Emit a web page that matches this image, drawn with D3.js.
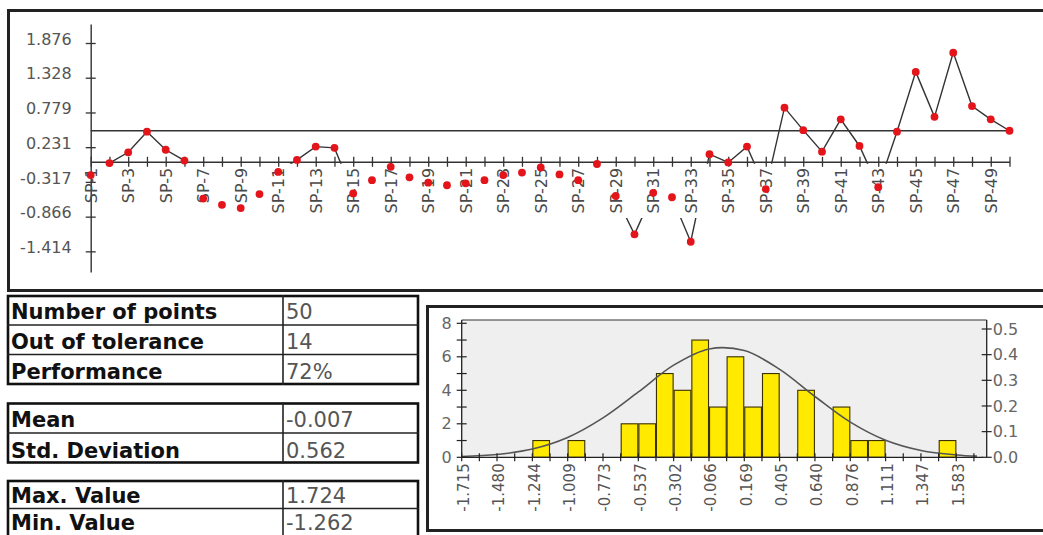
<!DOCTYPE html>
<html><head><meta charset="utf-8">
<script src="https://cdn.jsdelivr.net/npm/d3@7"></script>
<style>body{margin:0;background:#fff}svg{display:block}</style>
</head><body>
<svg id="c" width="1043" height="535"></svg>
<script>
// ---------- data ----------
const samples = ["SP-1","SP-2","SP-3","SP-4","SP-5","SP-6","SP-7","SP-8","SP-9","SP-10",
"SP-11","SP-12","SP-13","SP-14","SP-15","SP-16","SP-17","SP-18","SP-19","SP-20",
"SP-21","SP-22","SP-23","SP-24","SP-25","SP-26","SP-27","SP-28","SP-29","SP-30",
"SP-31","SP-32","SP-33","SP-34","SP-35","SP-36","SP-37","SP-38","SP-39","SP-40",
"SP-41","SP-42","SP-43","SP-44","SP-45","SP-46","SP-47","SP-48","SP-49","SP-50"];
const values = [-0.21,-0.02,0.15,0.475,0.19,0.02,-0.58,-0.68,-0.73,-0.51,
-0.16,0.03,0.24,0.22,-0.50,-0.29,-0.08,-0.245,-0.33,-0.37,
-0.34,-0.29,-0.21,-0.17,-0.09,-0.20,-0.29,-0.035,-0.54,-1.145,
-0.49,-0.56,-1.262,0.12,-0.01,0.24,-0.43,0.855,0.50,0.16,
0.67,0.25,-0.40,0.475,1.42,0.71,1.724,0.88,0.67,0.49];
const yTicks = [1.876,1.328,0.779,0.231,-0.317,-0.866,-1.414];
const limitValue = 0.49;

const table1Labels = ["Number of points","Out of tolerance","Performance"];
const table1Values = ["50","14","72%"];
const table2Labels = ["Mean","Std. Deviation"];
const table2Values = ["-0.007","0.562"];
const table3Labels = ["Max. Value","Min. Value"];
const table3Values = ["1.724","-1.262"];

const histBinWidth = 0.11775;
const histBinStarts = [-1.244,-1.009,-0.655,-0.537,-0.420,-0.302,-0.184,-0.066,0.051,0.169,0.287,0.522,0.758,0.876,0.993,1.465];
const histCounts    = [1,1,2,2,5,4,7,3,6,3,5,4,3,1,1,1];
const histTicks = ["-1.715","-1.480","-1.244","-1.009","-0.773","-0.537","-0.302","-0.066","0.169","0.405","0.640","0.876","1.111","1.347","1.583"];
const histLeftTicks = [0,2,4,6,8];
const histRightTicks = ["0.0","0.1","0.2","0.3","0.4","0.5"];
const curveX = [-1.715,-1.480,-1.244,-1.009,-0.773,-0.537,-0.302,-0.066,0.169,0.405,0.640,0.876,1.111,1.347,1.583,1.72];
const curveY = [0.05,0.17,0.49,1.18,2.35,3.9,5.5,6.47,6.37,5.25,3.63,2.1,1.02,0.41,0.14,0.07];

// ---------- drawing ----------
const svg = d3.select("#c");
const FONT = "'DejaVu Sans', Verdana, sans-serif";

// top panel frame
svg.append("rect").attr("x",8.5).attr("y",10.5).attr("width",1060).attr("height",280)
  .attr("fill","#fff").attr("stroke","#222").attr("stroke-width",3);

const x = d3.scalePoint().domain(samples).range([90.7, 1009.5]);
const y = d3.scaleLinear().domain([-1.74, 2.176]).range([272, 24]);
const pts = samples.map((s,i)=>({s, v: values[i]}));

const runG = svg.append("g");
runG.append("path").datum(pts)
  .attr("d", d3.line().x(d=>x(d.s)).y(d=>y(d.v)))
  .attr("fill","none").attr("stroke","#333").attr("stroke-width",1.4);

// label background band (hides line under the category labels)
runG.append("rect").attr("x", x.range()[0]+1).attr("y", y(0)+2)
  .attr("width", x.range()[1]-x.range()[0]+8).attr("height", 218-(y(0)+2)).attr("fill","#fff");

// limit line
runG.append("line").attr("x1",x(samples[0])).attr("x2",x(samples[samples.length-1]))
  .attr("y1",y(limitValue)).attr("y2",y(limitValue)).attr("stroke","#333").attr("stroke-width",1.4);

// y axis
const ya = runG.append("g").attr("transform",`translate(${x.range()[0]},0)`)
  .call(d3.axisLeft(y).tickValues(yTicks).tickFormat(d=>d.toFixed(3)).tickSize(5).tickSizeOuter(0));
ya.select(".domain").attr("stroke","#333").attr("stroke-width",1.4);
ya.selectAll(".tick line").attr("x1",5).attr("x2",-5).attr("stroke","#333").attr("stroke-width",1.3);
ya.selectAll(".tick text").attr("x",-19).attr("y",-4).attr("dy","0.32em")
  .style("font-family",FONT).style("font-size","16px").attr("fill","#555");

// x axis
const xa = runG.append("g").attr("transform",`translate(0,${y(0)})`)
  .call(d3.axisBottom(x).tickSize(5).tickSizeOuter(0).tickFormat((d,i)=> i%2===0 ? d : ""));
xa.select(".domain").attr("stroke","#333").attr("stroke-width",1.4);
xa.selectAll(".tick line").attr("y1",-5).attr("y2",5).attr("stroke","#333").attr("stroke-width",1.3);
xa.selectAll(".tick text").attr("x",-6).attr("y",0).attr("dy","0.35em")
  .attr("transform","rotate(-90)").style("text-anchor","end")
  .style("font-family",FONT).style("font-size","16px").attr("fill","#4a4a4a");

// points
runG.append("g").selectAll("circle").data(pts).join("circle")
  .attr("cx",d=>x(d.s)).attr("cy",d=>y(d.v)).attr("r",3.9).attr("fill","#e4141b");

// ---------- tables ----------
function drawTable(topY, rowH, labels, vals, lift){
  const g = svg.append("g");
  const x0 = 7, x1 = 419, xm = 283;
  let yy = topY;
  const ys = [yy];
  rowH.forEach(h=>{ yy += h; ys.push(yy); });
  g.append("rect").attr("x",x0+1).attr("y",topY+1).attr("width",x1-x0-2).attr("height",yy-topY-2)
    .attr("fill","#fff").attr("stroke","#111").attr("stroke-width",2.6);
  ys.slice(1,-1).forEach(v=> g.append("line").attr("x1",x0).attr("x2",x1).attr("y1",v).attr("y2",v)
    .attr("stroke","#222").attr("stroke-width",1.6));
  g.append("line").attr("x1",xm).attr("x2",xm).attr("y1",topY).attr("y2",yy).attr("stroke","#222").attr("stroke-width",1.6);
  labels.forEach((l,i)=>{
    const by = ys[i+1]-(lift && i===labels.length-1 ? lift : 6);
    g.append("text").attr("x",x0+4).attr("y",by).text(l)
      .style("font-family",FONT).style("font-size","21px").style("font-weight","bold").attr("fill","#111");
    g.append("text").attr("x",xm+3).attr("y",by).text(vals[i])
      .style("font-family",FONT).style("font-size","21px").attr("fill","#555");
  });
}
drawTable(295, [30,29.5,30.5], table1Labels, table1Values);
drawTable(402.5, [30.5,30.5], table2Labels, table2Values);
drawTable(480, [28.5,30], table3Labels, table3Values, 9);

// ---------- histogram ----------
svg.append("rect").attr("x",427.5).attr("y",306.5).attr("width",700).attr("height",224)
  .attr("fill","#fff").attr("stroke","#222").attr("stroke-width",3);

const hx = d3.scaleLinear().domain([-1.715, 1.785]).range([461.7, 986.7]);
const hy = d3.scaleLinear().domain([0, 8]).range([457.3, 323.3]);
const hyR = d3.scaleLinear().domain([0, 0.5]).range([457.3, 329]);
const hg = svg.append("g");
const plotTop = 320;

hg.append("rect").attr("x",hx.range()[0]).attr("y",plotTop).attr("width",hx.range()[1]-hx.range()[0])
  .attr("height",hy(0)-plotTop).attr("fill","#efefef");
hg.append("line").attr("x1",hx.range()[0]).attr("x2",hx.range()[1]).attr("y1",plotTop).attr("y2",plotTop)
  .attr("stroke","#333").attr("stroke-width",1.2);

// bars
hg.selectAll("rect.bar").data(histBinStarts.map((s,i)=>({s,c:histCounts[i]}))).join("rect")
  .attr("class","bar")
  .attr("x",d=>hx(d.s)+0.5).attr("width",d=>hx(d.s+histBinWidth)-hx(d.s)-1)
  .attr("y",d=>hy(d.c)).attr("height",d=>hy(0)-hy(d.c))
  .attr("fill","#ffea00").attr("stroke","#3a3000").attr("stroke-width",1.1);

// fitted curve
hg.append("path").datum(curveX.map((v,i)=>[v,curveY[i]]))
  .attr("d", d3.line().x(d=>hx(d[0])).y(d=>hy(d[1])).curve(d3.curveCatmullRom))
  .attr("fill","none").attr("stroke","#555").attr("stroke-width",1.6);

// bottom axis
const tickVals = histTicks.map(Number);
const minorTicks = d3.range(0,30).map(k=> -1.715 + k*histBinWidth);
hg.append("line").attr("x1",hx(-1.715)).attr("x2",hx(1.76)).attr("y1",hy(0)).attr("y2",hy(0))
  .attr("stroke","#222").attr("stroke-width",1.3);
hg.selectAll("line.mt").data(minorTicks).join("line").attr("class","mt")
  .attr("x1",d=>hx(d)).attr("x2",d=>hx(d)).attr("y1",hy(0)-4).attr("y2",hy(0)+4)
  .attr("stroke","#222").attr("stroke-width",1.2);
hg.selectAll("text.xl").data(histTicks).join("text").attr("class","xl")
  .attr("transform",(d,i)=>`translate(${hx(tickVals[i])+2},${hy(0)+6}) rotate(-90)`)
  .attr("dy","0.35em").style("text-anchor","end").text(d=>d)
  .style("font-family",FONT).style("font-size","15px").attr("fill","#555");

// left axis
hg.append("line").attr("x1",hx.range()[0]).attr("x2",hx.range()[0]).attr("y1",plotTop).attr("y2",hy(0))
  .attr("stroke","#222").attr("stroke-width",1.3);
hg.selectAll("line.lt").data(d3.range(0,9)).join("line").attr("class","lt")
  .attr("x1",hx.range()[0]-5).attr("x2",hx.range()[0]+5).attr("y1",d=>hy(d)).attr("y2",d=>hy(d))
  .attr("stroke","#222").attr("stroke-width",1.2);
hg.selectAll("text.ll").data(histLeftTicks).join("text").attr("class","ll")
  .attr("x",hx.range()[0]-10).attr("y",d=>hy(d)).attr("dy","0.35em").style("text-anchor","end").text(d=>d)
  .style("font-family",FONT).style("font-size","16px").attr("fill","#666");

// right axis
hg.append("line").attr("x1",hx.range()[1]).attr("x2",hx.range()[1]).attr("y1",plotTop).attr("y2",hy(0))
  .attr("stroke","#222").attr("stroke-width",1.3);
hg.selectAll("line.rt").data(histRightTicks).join("line").attr("class","rt")
  .attr("x1",hx.range()[1]-5).attr("x2",hx.range()[1]+5).attr("y1",d=>hyR(+d)).attr("y2",d=>hyR(+d))
  .attr("stroke","#222").attr("stroke-width",1.2);
hg.selectAll("text.rl").data(histRightTicks).join("text").attr("class","rl")
  .attr("x",hx.range()[1]+6).attr("y",d=>hyR(+d)).attr("dy","0.35em").text(d=>d)
  .style("font-family",FONT).style("font-size","16px").attr("fill","#666");
</script>
</body></html>
